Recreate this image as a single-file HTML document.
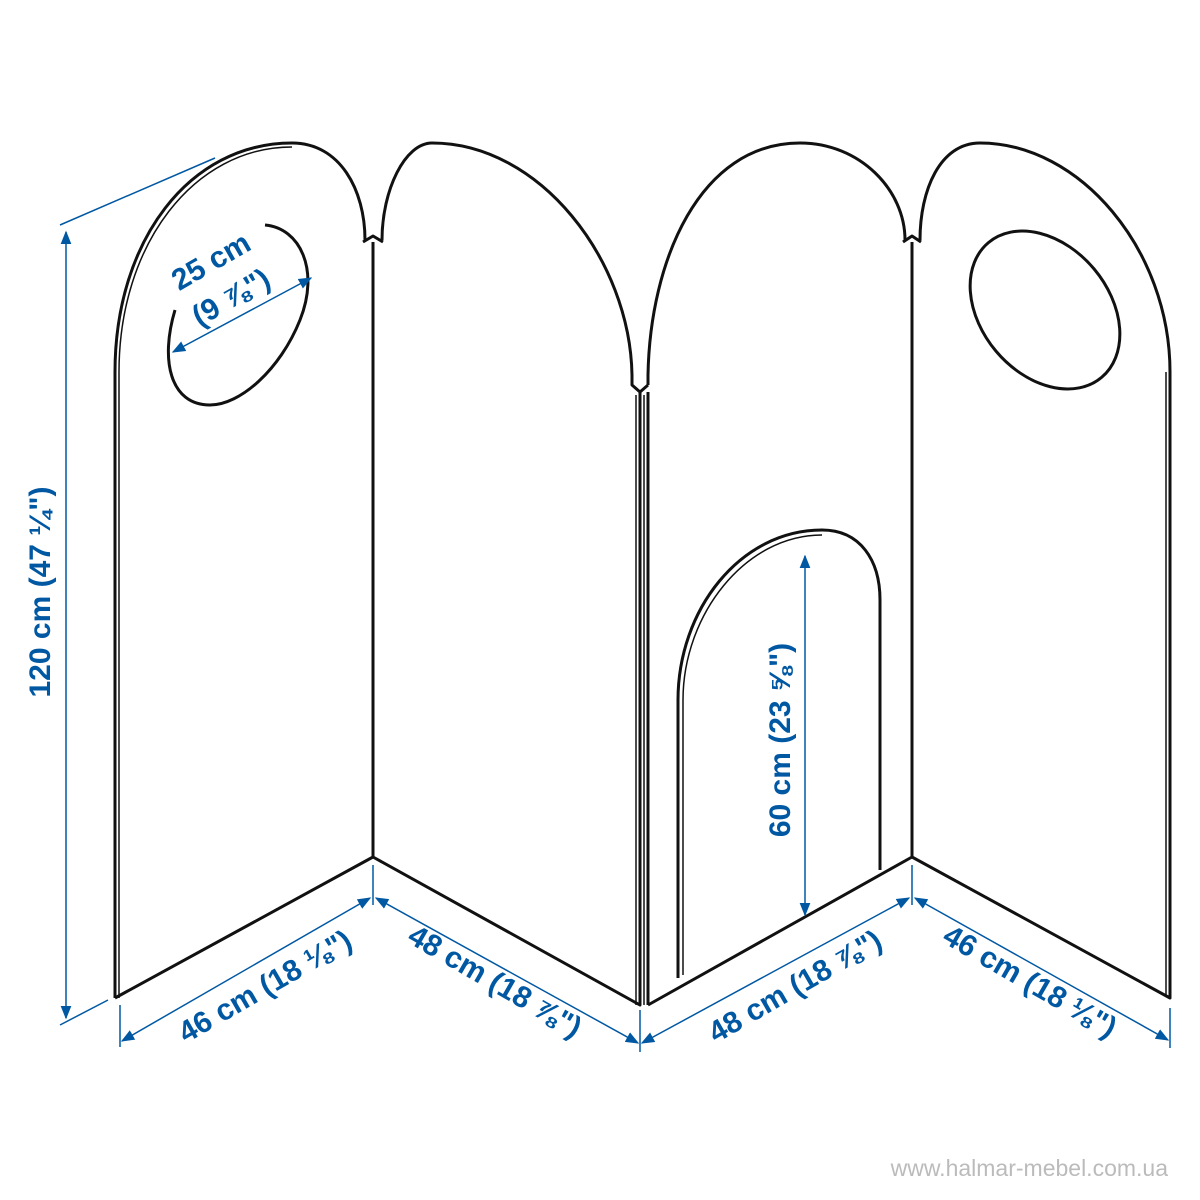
<!DOCTYPE html>
<html><head><style>html,body{margin:0;padding:0;background:#fff}svg{display:block}</style></head><body>
<svg width="1200" height="1200" viewBox="0 0 1200 1200" xmlns="http://www.w3.org/2000/svg">
<defs><marker id="a" viewBox="0 0 10 10" refX="9" refY="5" markerWidth="9" markerHeight="9" orient="auto-start-reverse"><path d="M0,1 L10,5 L0,9z" fill="#0058a3"/></marker></defs>
<g fill="none" stroke="#111" stroke-width="3" stroke-linejoin="round">
<path d="M115,998 L115,372 C115,240 190,143 292,143 C340,143 365,190 365,240"/>
<path d="M119,998 L119,372 C119,244 194,147 292,147" stroke-width="1.5"/>
<path d="M115,998 L373,857"/>
<path d="M373,857 L373,242" />
<path d="M363,242 L373,236 L383,242"/>
<path d="M382,240 C382,190 405,143 432,143 C540,143 630,260 632,375 L632,385 L640,392 L648,385"/>
<path d="M373,857 L640,1005 L640,392"/>
<path d="M636,1005 L636,395" stroke-width="1.5"/>
<path d="M648,385 L648,375 C650,260 700,143 800,143 C860,143 905,190 905,240"/>
<path d="M648,1005 L648,392"/>
<path d="M644,1005 L644,395" stroke-width="1.5"/>
<path d="M648,1005 L912,857 L912,242"/>
<path d="M903,242 L912,236 L921,242"/>
<path d="M678,978 L678,700 C678,610 740,530 822,530 C860,530 880,560 880,600 L880,870"/>
<path d="M683,975 L683,700 C683,615 745,535 822,535" stroke-width="1.5"/>
<path d="M920,240 C920,190 940,143 980,143 C1080,143 1170,250 1170,372 L1170,998 L912,857"/>
<path d="M1166,995 L1166,372" stroke-width="1.5"/>
<path d="M265,225 C300,228 320,270 300,320 C280,370 240,405 210,405 C170,405 160,360 175,310" />
<ellipse cx="1045" cy="310" rx="88" ry="64" transform="rotate(50 1045 310)"/>
</g>
<g stroke="#0058a3" stroke-width="1.5" fill="none">
<line x1="60" y1="225" x2="215" y2="158"/>
<line x1="60" y1="1025" x2="108" y2="1000"/>
<line x1="66" y1="232" x2="66" y2="1018" marker-start="url(#a)" marker-end="url(#a)"/>
<line x1="120" y1="1005" x2="120" y2="1047"/>
<line x1="373" y1="865" x2="373" y2="905"/>
<line x1="640" y1="1010" x2="640" y2="1052"/>
<line x1="912" y1="865" x2="912" y2="905"/>
<line x1="1170" y1="1008" x2="1170" y2="1048"/>
<line x1="122" y1="1041" x2="370" y2="898" marker-start="url(#a)" marker-end="url(#a)"/>
<line x1="376" y1="898" x2="638" y2="1043" marker-start="url(#a)" marker-end="url(#a)"/>
<line x1="642" y1="1043" x2="909" y2="898" marker-start="url(#a)" marker-end="url(#a)"/>
<line x1="915" y1="898" x2="1168" y2="1040" marker-start="url(#a)" marker-end="url(#a)"/>
<line x1="805" y1="556" x2="805" y2="915" marker-start="url(#a)" marker-end="url(#a)"/>
<line x1="173" y1="352" x2="311" y2="278" marker-start="url(#a)" marker-end="url(#a)"/>
</g>
<g fill="#0058a3" font-family="Liberation Sans, sans-serif" font-weight="bold" font-size="30" text-anchor="middle">
<text transform="translate(50,592) rotate(-90)">120 cm (47 ¼")</text>
<text transform="translate(790,740) rotate(-90)">60 cm (23 ⅝")</text>
<text transform="translate(270,995) rotate(-30)">46 cm (18 ⅛")</text>
<text transform="translate(490,990) rotate(30)">48 cm (18 ⅞")</text>
<text transform="translate(800,995) rotate(-30)">48 cm (18 ⅞")</text>
<text transform="translate(1025,990) rotate(30)">46 cm (18 ⅛")</text>
<text transform="translate(216,270) rotate(-30)">25 cm</text>
<text transform="translate(236,306) rotate(-30)">(9 ⅞")</text>
</g>
<text x="1168" y="1176" text-anchor="end" fill="#bbb" font-family="Liberation Sans, sans-serif" font-size="23">www.halmar-mebel.com.ua</text>
</svg>
</body></html>
